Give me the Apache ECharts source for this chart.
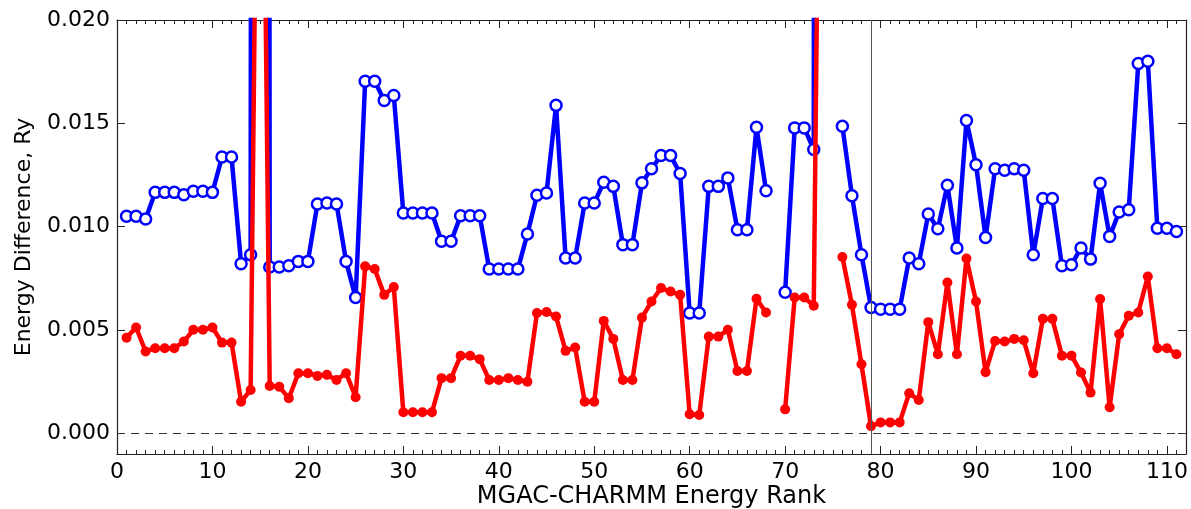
<!DOCTYPE html>
<html>
<head>
<meta charset="utf-8">
<script src="https://cdn.jsdelivr.net/npm/echarts@6/dist/echarts.min.js"></script>
<style>
  html, body { margin: 0; padding: 0; background: #fff; }
  #chart { width: 1191px; height: 509px; }
</style>
</head>
<body>
<div id="chart"></div>
<script type="text/javascript">
  // rank 1..111, null = gap, spikes at 15 and 74 run off the top
  var ranks = [];
  for (var i = 1; i <= 111; i++) ranks.push(i);

  var blueVals = [
    0.0105, 0.0105, 0.01037, 0.01166, 0.01166, 0.01166, 0.01155, 0.01171, 0.01171, 0.01166,
    0.01337, 0.01337, 0.00821, 0.00864, 0.5, 0.00805, 0.00805, 0.00811, 0.00832, 0.00832,
    0.0111, 0.01115, 0.0111, 0.00832, 0.00657, 0.01704, 0.01704, 0.01611, 0.01635, 0.01066,
    0.01066, 0.01066, 0.01066, 0.00929, 0.00929, 0.01053, 0.01053, 0.01053, 0.00795, 0.00795,
    0.00795, 0.00795, 0.00965, 0.01152, 0.01163, 0.01587, 0.00848, 0.00848, 0.01115, 0.01115,
    0.01215, 0.01195, 0.00913, 0.00913, 0.01212, 0.0128, 0.01344, 0.01344, 0.01257, 0.00582,
    0.00582, 0.01195, 0.01195, 0.01236, 0.00985, 0.00985, 0.01481, 0.01174, null, 0.00683,
    0.01478, 0.01478, 0.01373, 0.5, null, 0.01486, 0.0115, 0.00864, 0.00609, 0.00601,
    0.00601, 0.00601, 0.00848, 0.00821, 0.01061, 0.0099, 0.012, 0.00897, 0.01514, 0.013,
    0.00948, 0.0128, 0.01273, 0.0128, 0.01273, 0.00864, 0.01136, 0.01136, 0.00811, 0.00816,
    0.00897, 0.00843, 0.0121, 0.00953, 0.01071, 0.01082, 0.0179, 0.018, 0.00992, 0.00992,
    0.00977
  ];

  var redVals = [
    0.00463, 0.00512, 0.00396, 0.00412, 0.00412, 0.00412, 0.00444, 0.00501, 0.00501, 0.00512,
    0.00439, 0.00439, 0.00153, 0.0021, 0.045, 0.00229, 0.00226, 0.0017, 0.00291, 0.00291,
    0.00278, 0.00283, 0.00258, 0.00291, 0.00175, 0.00808, 0.00795, 0.0067, 0.00708, 0.00102,
    0.00102, 0.00102, 0.00102, 0.00267, 0.00267, 0.00375, 0.00375, 0.00359, 0.00258, 0.00258,
    0.00267, 0.00258, 0.0025, 0.00582, 0.00587, 0.00565, 0.00399, 0.00415, 0.00153, 0.00153,
    0.00544, 0.00457, 0.00258, 0.00258, 0.0056, 0.00638, 0.00703, 0.00686, 0.0067, 0.00092,
    0.00089, 0.00468, 0.00468, 0.00501, 0.00302, 0.00302, 0.00651, 0.00585, null, 0.00116,
    0.00657, 0.00657, 0.00617, 0.05, null, 0.00853, 0.00622, 0.00334, 0.00035, 0.00053,
    0.00053, 0.00053, 0.00194, 0.00161, 0.00538, 0.00383, 0.0073, 0.00383, 0.00846, 0.00638,
    0.00296, 0.00447, 0.00444, 0.00457, 0.0045, 0.00291, 0.00554, 0.00554, 0.00376, 0.00376,
    0.00294, 0.00197, 0.0065, 0.00126, 0.0048, 0.00569, 0.00585, 0.00759, 0.00412, 0.00412,
    0.00383
  ];

  var yTicks = [0, 0.005, 0.010, 0.015, 0.020];
  var xMax = 112;
  var markRank = 79;

  function pairs(vals) {
    return ranks.map(function (r, k) { return [r, vals[k]]; });
  }

  var font = 'DejaVu Sans';
  var chart = echarts.init(document.getElementById('chart'));

  function xAx(pos, interval, len, labels, line) {
    return {
      type: 'value', position: pos, min: 0, max: xMax, interval: interval,
      axisLine: { show: line, onZero: false, lineStyle: { color: '#222', width: 1.2 } },
      axisTick: { show: true, inside: true, length: len, lineStyle: { color: '#222', width: 1 } },
      axisLabel: { show: labels, showMaxLabel: false, fontFamily: font, fontSize: 22, color: '#000', margin: 7 },
      splitLine: { show: false }
    };
  }

  function yAx(pos, labels) {
    return {
      type: 'value', position: pos, min: -0.001, max: 0.02,
      axisLine: { show: true, onZero: false, lineStyle: { color: '#222', width: 1.2 } },
      axisTick: { show: true, inside: true, length: 8, customValues: yTicks, lineStyle: { color: '#222', width: 1 } },
      axisLabel: {
        show: labels, customValues: yTicks, fontFamily: font, fontSize: 22, color: '#000', margin: 7,
        formatter: function (v) { return v.toFixed(3); }
      },
      splitLine: { show: false }
    };
  }

  var xBottom = xAx('bottom', 10, 8, true, true);
  xBottom.name = 'MGAC-CHARMM Energy Rank';
  xBottom.nameLocation = 'middle';
  xBottom.nameGap = 31;
  xBottom.nameMoveOverlap = false;
  xBottom.nameTextStyle = { fontFamily: font, fontSize: 24, color: '#000' };

  var yLeft = yAx('left', true);
  yLeft.name = 'Energy Difference, Ry';
  yLeft.nameLocation = 'middle';
  yLeft.nameGap = 82;
  yLeft.nameMoveOverlap = false;
  yLeft.nameTextStyle = { fontFamily: font, fontSize: 22, color: '#000' };

  var option = {
    animation: false,
    backgroundColor: '#fff',
    grid: { left: 117, right: 5, top: 20, bottom: 55, containLabel: false, outerBoundsMode: 'none' },
    xAxis: [
      xBottom,
      xAx('bottom', 1, 4, false, false),
      xAx('top', 10, 8, false, true),
      xAx('top', 1, 4, false, false)
    ],
    yAxis: [yLeft, yAx('right', false)],
    series: [
      {
        name: 'blue', type: 'line', xAxisIndex: 0, yAxisIndex: 0,
        data: pairs(blueVals),
        clip: true,
        symbol: 'circle', symbolSize: 11,
        lineStyle: { color: '#0000ff', width: 4.5 },
        itemStyle: { color: '#ffffff', borderColor: '#0000ff', borderWidth: 2.5 },
        markLine: {
          silent: true, symbol: 'none', label: { show: false },
          data: [
            { xAxis: markRank, lineStyle: { color: '#555', width: 1, type: 'solid' } },
            { yAxis: 0, lineStyle: { color: '#333', width: 1, type: [8, 6] } }
          ]
        },
        z: 2
      },
      {
        name: 'red', type: 'line', xAxisIndex: 0, yAxisIndex: 0,
        data: pairs(redVals),
        clip: true,
        symbol: 'circle', symbolSize: 10,
        lineStyle: { color: '#ff0000', width: 4.5 },
        itemStyle: { color: '#ff0000', borderColor: '#ff0000', borderWidth: 0 },
        z: 3
      }
    ]
  };

  chart.setOption(option);
</script>
</body>
</html>
